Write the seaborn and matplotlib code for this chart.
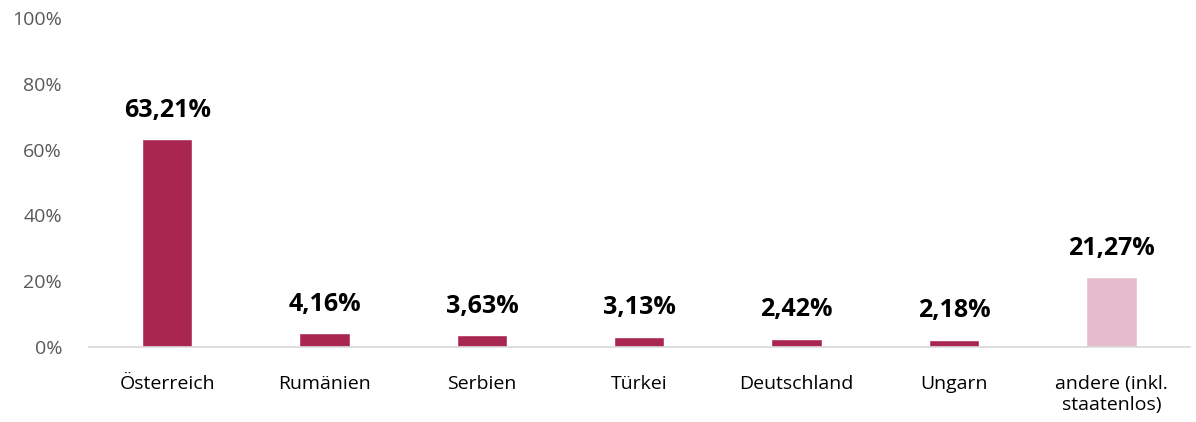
import matplotlib.pyplot as plt
import numpy as np
import pandas as pd
import seaborn as sns

countries = ["Österreich", "Rumänien", "Serbien", "Türkei", "Deutschland", "Ungarn",
             "andere (inkl.\nstaatenlos)"]
shares = [63.21, 4.16, 3.63, 3.13, 2.42, 2.18, 21.27]
bar_colors = ["#A8264F"] * 6 + ["#E4BCCB"]
y_ticks = [0, 20, 40, 60, 80, 100]


def main():
    df = pd.DataFrame({"country": countries, "share": shares})

    sns.set_style("white")
    plt.rcParams["font.family"] = ["Open Sans", "DejaVu Sans"]

    fig = plt.figure(figsize=(11.96, 4.22), dpi=100)
    ax = fig.add_axes([0.074, 0.178, 0.921, 0.779])

    sns.barplot(
        data=df, x="country", y="share", hue="country", palette=bar_colors,
        width=0.32, legend=False, saturation=1, ax=ax,
    )

    for i, v in enumerate(shares):
        ax.text(i, v + 5, f"{v:.2f}%".replace(".", ","), ha="center", va="bottom",
                fontsize=18, fontweight="bold", color="black")

    ax.set_ylim(0, 100)
    ax.set_xlim(-0.5, 6.5)
    ax.set_yticks(y_ticks)
    ax.set_yticklabels([f"{t}%" for t in y_ticks])
    ax.tick_params(axis="y", labelsize=14, colors="#595959", length=0, pad=19)
    ax.tick_params(axis="x", labelsize=14, labelcolor="#000000", length=0, pad=20)
    for lbl in ax.get_xticklabels():
        lbl.set_linespacing(1.25)
    ax.set_xlabel(None)
    ax.set_ylabel(None)

    for s in ["top", "right", "left"]:
        ax.spines[s].set_visible(False)
    ax.spines["bottom"].set_color("#D9D9D9")
    ax.spines["bottom"].set_linewidth(1.2)

    fig.savefig("out.png", dpi=100)
    plt.close(fig)


if __name__ == "__main__":
    main()
